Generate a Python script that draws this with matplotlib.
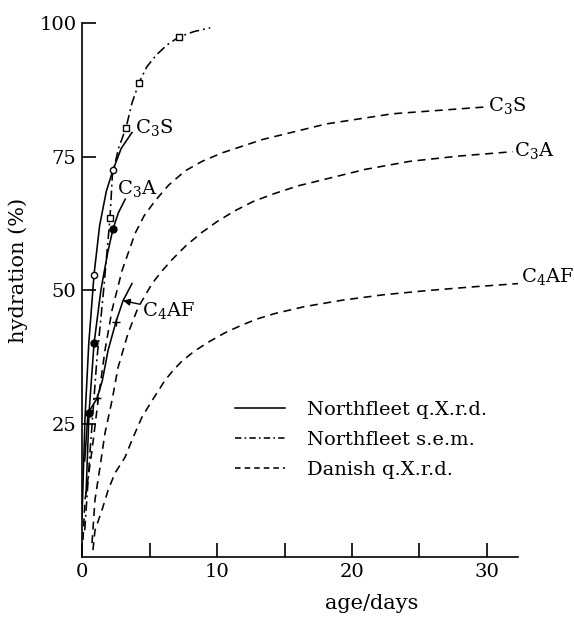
import matplotlib
matplotlib.use('Agg')
import matplotlib.pyplot as plt
from matplotlib.lines import Line2D

plt.rcParams['font.family'] = ['DejaVu Serif']
plt.rcParams['mathtext.fontset'] = 'dejavuserif'

# Danish q.X.r.d. (dashed)
dan_c3s_x = [0.07, 0.22, 0.74, 1.19, 1.70, 2.22, 2.96, 3.93, 4.6, 5.41, 6.4, 7.63, 8.9, 10.4, 13.4, 18.1, 23.0, 30.0]
dan_c3s_y = [3.2, 10.7, 20.0, 29.3, 38.7, 46.2, 53.6, 60.6, 63.9, 66.7, 69.6, 72.3, 74.1, 75.7, 78.2, 81.1, 83.0, 84.3]

dan_c3a_x = [0.74, 0.96, 1.33, 1.70, 2.22, 2.67, 3.41, 4.15, 5.19, 5.9, 6.67, 7.7, 8.89, 10.0, 11.3, 12.7, 14.3, 16.0, 18.1, 21.0, 24.3, 28.0, 31.9]
dan_c3a_y = [2.6, 10.7, 16.8, 23.2, 29.3, 35.5, 41.9, 46.7, 51.2, 53.5, 55.7, 58.3, 60.8, 62.8, 64.8, 66.6, 68.1, 69.5, 70.8, 72.6, 74.1, 75.1, 75.9]

dan_c4af_x = [0.81, 0.96, 1.48, 1.93, 2.44, 3.19, 3.70, 4.44, 5.19, 6.15, 6.8, 7.41, 8.3, 9.33, 10.6, 11.9, 13.0, 14.3, 16.5, 19.3, 22.3, 25.6, 29.0, 32.3]
dan_c4af_y = [1.3, 5.0, 8.8, 12.5, 15.7, 18.7, 21.9, 26.2, 29.3, 33.1, 35.1, 36.7, 38.5, 40.2, 42.0, 43.5, 44.6, 45.6, 46.9, 48.1, 49.1, 49.9, 50.6, 51.2]

# Northfleet s.e.m. (dash-dot) C3S
sem_x = [0.2, 0.6, 1.1, 1.6, 2.07, 2.25, 2.7, 3.26, 3.7, 4.22, 4.8, 5.5, 6.3, 7.19, 8.3, 9.5]
sem_y = [5, 20, 37, 50, 63.4, 71.5, 76.5, 80.4, 85.0, 88.8, 91.8, 94.0, 95.9, 97.4, 98.4, 99.1]
sem_pts_x = [2.07, 3.26, 4.22, 7.19]
sem_pts_y = [63.4, 80.4, 88.8, 97.4]

# Northfleet q.X.r.d. (solid)
nf_c3s_x = [0.0, 0.22, 0.5, 0.89, 1.3, 1.8, 2.3, 2.9, 3.7]
nf_c3s_y = [7.5, 26.0, 40.0, 52.9, 62.0, 68.5, 72.5, 76.5, 79.5]
nf_c3s_pts_x = [0.89, 2.30]
nf_c3s_pts_y = [52.9, 72.5]

nf_c3a_x = [0.3, 0.52, 0.89, 1.4, 1.9, 2.30, 2.7, 3.2]
nf_c3a_y = [12.0, 27.0, 40.0, 50.0, 57.0, 61.5, 64.5, 67.0]
nf_c3a_pts_x = [0.52, 0.89, 2.30]
nf_c3a_pts_y = [27.0, 40.0, 61.5]

nf_c4af_x = [0.2, 0.44, 1.11, 1.5, 1.93, 2.52, 3.04, 3.7]
nf_c4af_y = [18.0, 26.9, 29.7, 33.0, 38.7, 44.1, 48.0, 51.2]
nf_c4af_pts_x = [1.11, 2.52]
nf_c4af_pts_y = [29.7, 44.1]

legend_labels = ['Northfleet q.X.r.d.', 'Northfleet s.e.m.', 'Danish q.X.r.d.']

fig = plt.figure(figsize=(5.74, 6.2), dpi=100)
ax = fig.add_axes([0.1429, 0.1016, 0.7596, 0.8613])

lw = 1.15
dash = (5, 3.5)
dashdot = (6, 2.5, 1.2, 2.5)

# Danish curves
ax.plot(dan_c3s_x, dan_c3s_y, color='black', lw=lw, dashes=dash)
ax.plot(dan_c3a_x, dan_c3a_y, color='black', lw=lw, dashes=dash)
ax.plot(dan_c4af_x, dan_c4af_y, color='black', lw=lw, dashes=dash)

# Northfleet s.e.m.
ax.plot(sem_x, sem_y, color='black', lw=lw, dashes=dashdot)
ax.plot(sem_pts_x, sem_pts_y, ls='none', marker='s', ms=5, mfc='white', mec='black', mew=1)

# Northfleet q.X.r.d.
ax.plot(nf_c3s_x, nf_c3s_y, color='black', lw=lw)
ax.plot(nf_c3s_pts_x, nf_c3s_pts_y, ls='none', marker='o', ms=4.5, mfc='white', mec='black', mew=1)
ax.plot(nf_c3a_x, nf_c3a_y, color='black', lw=lw)
ax.plot(nf_c3a_pts_x, nf_c3a_pts_y, ls='none', marker='o', ms=5, color='black')
ax.plot(nf_c4af_x, nf_c4af_y, color='black', lw=lw)
ax.plot(nf_c4af_pts_x, nf_c4af_pts_y, ls='none', marker='+', ms=6, color='black', mew=1)

# curve labels
fs = 14
ax.text(3.93, 80.4, r'C$_3$S', fontsize=fs, va='center', ha='left')
ax.text(2.59, 69.0, r'C$_3$A', fontsize=fs, va='center', ha='left')
ax.annotate(r'C$_4$AF', xy=(3.04, 48.0), xytext=(4.44, 46.2), fontsize=fs,
            va='center', ha='left',
            arrowprops=dict(arrowstyle='-|>', color='black', lw=1, shrinkA=0, shrinkB=0,
                            mutation_scale=10))
ax.text(30.1, 84.5, r'C$_3$S', fontsize=fs, va='center', ha='left', clip_on=False)
ax.text(32.0, 76.1, r'C$_3$A', fontsize=fs, va='center', ha='left', clip_on=False)
ax.text(32.5, 52.5, r'C$_4$AF', fontsize=fs, va='center', ha='left', clip_on=False)

# legend
handles = [Line2D([], [], color='black', lw=lw),
           Line2D([], [], color='black', lw=lw, dashes=(4, 2, 1, 2)),
           Line2D([], [], color='black', lw=lw, dashes=(3.5, 2.5))]
ax.legend(handles, legend_labels, loc='upper left', bbox_to_anchor=(0.35, 0.292),
          frameon=False, fontsize=fs, handlelength=2.6, handletextpad=1.1,
          labelspacing=0.62, borderpad=0, borderaxespad=0)

# axes styling
ax.set_xlim(0, 32.3)
ax.set_ylim(0, 100)
ax.spines['top'].set_visible(False)
ax.spines['right'].set_visible(False)
ax.spines['left'].set_linewidth(1.2)
ax.spines['bottom'].set_linewidth(1.2)

ax.set_xticks([0, 5, 10, 15, 20, 25, 30])
ax.set_xticklabels(['0', '', '10', '', '20', '', '30'])
ax.set_yticks([25, 50, 75, 100])
ax.tick_params(direction='in', length=10, width=1.2, labelsize=fs, pad=4)

ax.set_xlabel('age/days', fontsize=15)
ax.xaxis.set_label_coords(0.665, -0.07)
ax.set_ylabel('hydration (%)', fontsize=15)
ax.yaxis.set_label_coords(-0.125, 0.537)

fig.savefig('out.png', dpi=100)
